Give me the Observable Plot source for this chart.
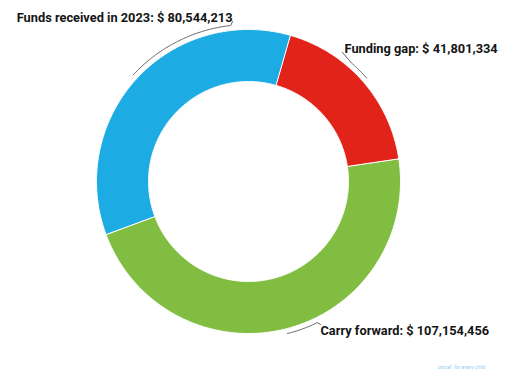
<!DOCTYPE html>
<html>
<head>
<meta charset="utf-8">
<script src="https://cdn.jsdelivr.net/npm/d3@7"></script>
<script src="https://cdn.jsdelivr.net/npm/@observablehq/plot@0.6"></script>
<style>
  html, body { margin: 0; padding: 0; background: #fff; }
  #chart svg { display: block; }
</style>
</head>
<body>
<div id="chart"></div>
<script>
// ---- data ----
const categories = ["Funding gap", "Carry forward", "Funds received in 2023"];
const amounts = [41801334, 107154456, 80544213];
const colors = ["#E2231A", "#80BD41", "#1CABE2"];
const creditText = "unicef  for every child";

// ---- layout ----
const W = 513, H = 372, CX = 248, CY = 181;
const R = 152, R0 = 100, START = 16, LEAD_R = R + 5;
// per slice: angle where leader arc ends, hook end (relative to centre, y up), text pos, anchor
const labelLayout = [
  {arcEnd: 41, hook: [94, 129], text: [96, 133], anchor: "start"},
  {arcEnd: 154, hook: [72, -143], text: [72, -149], anchor: "start"},
  {arcEnd: 353.5, hook: [-16, 160], text: [-16, 164], anchor: "end"}
];

const rad = d => d * Math.PI / 180;
const pt = (ang, r) => [r * Math.sin(rad(ang)), r * Math.cos(rad(ang))];
const total = d3.sum(amounts);

const slicePts = [], leaderPts = [], labels = [];
let acc = START;
amounts.forEach((v, i) => {
  const a0 = acc, a1 = acc + v / total * 360;
  acc = a1;
  const n = Math.max(8, Math.ceil((a1 - a0) / 0.5));
  for (let k = 0; k <= n; k++) {
    const [x, y] = pt(a0 + (a1 - a0) * k / n, R);
    slicePts.push({cat: categories[i], x, y});
  }
  for (let k = n; k >= 0; k--) {
    const [x, y] = pt(a0 + (a1 - a0) * k / n, R0);
    slicePts.push({cat: categories[i], x, y});
  }
  const mid = (a0 + a1) / 2, L = labelLayout[i];
  const m = Math.max(4, Math.ceil(Math.abs(L.arcEnd - mid) / 0.5));
  for (let k = 0; k <= m; k++) {
    const [x, y] = pt(mid + (L.arcEnd - mid) * k / m, LEAD_R);
    leaderPts.push({cat: categories[i], x, y});
  }
  leaderPts.push({cat: categories[i], x: L.hook[0], y: L.hook[1]});
  labels.push({cat: categories[i], x: L.text[0], y: L.text[1], anchor: L.anchor,
    text: categories[i] + ": $ " + d3.format(",")(v)});
});

const textMarks = labels.map(l => Plot.text([l], {
  x: "x", y: "y", text: "text", textAnchor: l.anchor, lineAnchor: "middle",
  fontSize: 12.8, fontWeight: 700, fill: "#151515"
}));

const chart = Plot.plot({
  width: W, height: H,
  marginTop: 0, marginRight: 0, marginBottom: 0, marginLeft: 0,
  style: {fontFamily: "Roboto, 'Noto Sans', sans-serif", background: "#fff"},
  x: {domain: [-CX, W - CX], axis: null},
  y: {domain: [-(H - CY), CY], axis: null},
  color: {domain: categories, range: colors},
  marks: [
    Plot.line(slicePts, {x: "x", y: "y", z: "cat", fill: "cat", stroke: "#fff",
      strokeWidth: 1, curve: "linear-closed"}),
    Plot.line(leaderPts, {x: "x", y: "y", z: "cat", stroke: "#555", strokeWidth: 0.9}),
    ...textMarks,
    Plot.text([creditText], {x: W - CX - 52, y: -(H - CY) + 5, text: d => d,
      fontSize: 5, fill: "#8fcfee", textAnchor: "middle"})
  ]
});
document.getElementById("chart").appendChild(chart);
</script>
</body>
</html>
